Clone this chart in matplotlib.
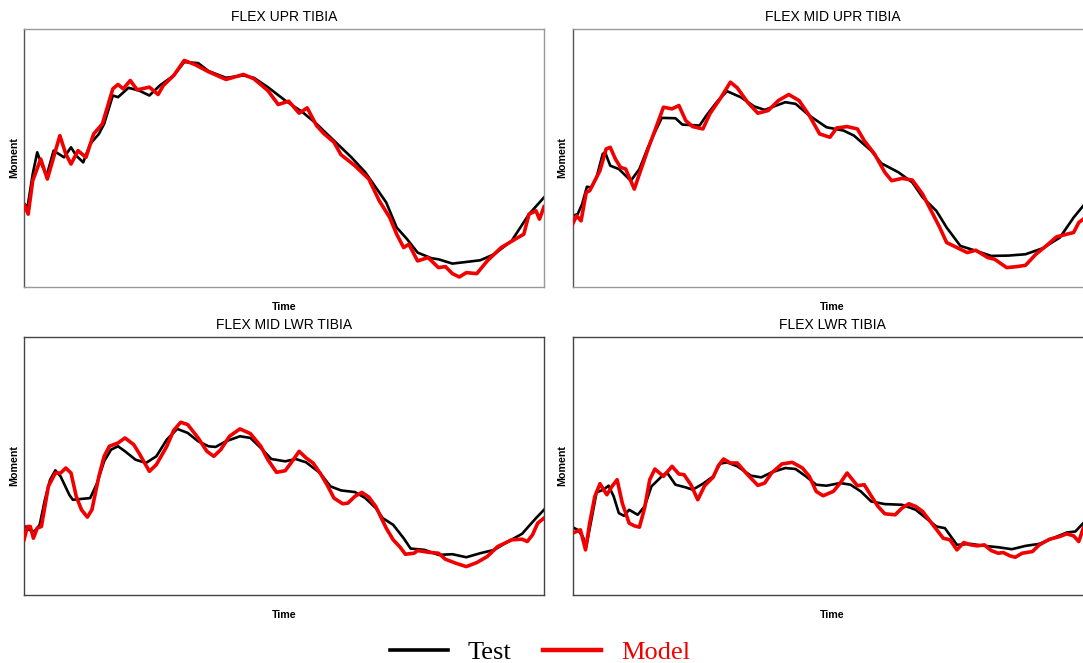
import matplotlib.pyplot as plt
from matplotlib.lines import Line2D

plt.rcParams['font.family'] = ['Liberation Sans', 'DejaVu Sans']

# FLEX UPR TIBIA
t1_test = [2, 10, 25, 38, 50, 65, 85, 100, 115, 135, 150, 170, 190, 215, 230, 255, 270, 300, 330, 360,
           390, 430, 460, 500, 530, 580, 630, 660, 700, 750, 800, 840, 890, 940, 980, 1010, 1040, 1070,
           1100, 1130, 1170, 1190, 1230, 1270, 1310, 1350, 1400, 1450, 1493]
m1_test = [248, 238, 338, 403, 368, 333, 408, 398, 388, 418, 393, 373, 428, 458, 488, 573, 568, 596, 588, 573,
           603, 633, 673, 670, 646, 626, 633, 626, 598, 558, 523, 488, 438, 388, 343, 298, 253, 178,
           143, 103, 86, 83, 70, 75, 80, 98, 138, 218, 268]
t1_model = [2, 12, 25, 48, 67, 85, 103, 120, 135, 155, 178, 200, 225, 255, 270, 285, 305, 325, 360, 385,
            400, 430, 460, 490, 530, 580, 630, 660, 700, 730, 760, 790, 813, 840, 860, 890, 910, 950,
            990, 1020, 1050, 1070, 1090, 1105, 1130, 1160, 1190, 1210, 1230, 1250, 1270, 1300, 1330,
            1370, 1410, 1435, 1450, 1470, 1480, 1493]
m1_model = [243, 218, 318, 383, 323, 388, 453, 398, 368, 408, 388, 458, 488, 593, 606, 593, 618, 590, 598, 576,
            603, 633, 678, 666, 644, 621, 636, 623, 588, 546, 556, 520, 536, 483, 460, 433, 396, 363,
            323, 258, 208, 158, 118, 128, 78, 88, 58, 61, 40, 30, 43, 40, 78,
            118, 143, 158, 218, 228, 203, 240]

# FLEX MID UPR TIBIA
t2_test = [0, 15, 28, 42, 55, 70, 88, 95, 110, 135, 170, 195, 220, 240, 260, 300, 320, 370, 390, 420,
           450, 490, 530, 560, 620, 650, 690, 740, 790, 820, 870, 900, 950, 990, 1020, 1060, 1090,
           1130, 1170, 1220, 1270, 1320, 1370, 1420, 1460, 1488]
m2_test = [213, 218, 248, 300, 298, 328, 398, 403, 363, 353, 318, 353, 418, 463, 506, 505, 486, 483, 513, 553,
           586, 568, 540, 530, 553, 548, 513, 478, 468, 453, 408, 370, 343, 313, 268, 228, 178,
           123, 110, 93, 94, 98, 116, 148, 208, 243]
t2_model = [0, 12, 25, 40, 50, 65, 80, 98, 110, 125, 140, 155, 180, 200, 220, 240, 265, 290, 310, 330,
            350, 380, 400, 430, 460, 480, 510, 540, 570, 600, 630, 660, 690, 720, 750, 770, 800, 830,
            850, 880, 910, 930, 960, 990, 1020, 1050, 1070, 1090, 1120, 1150, 1175, 1210, 1230, 1265,
            1295, 1320, 1350, 1380, 1410, 1440, 1460, 1475, 1488]
m2_model = [188, 213, 198, 283, 288, 318, 348, 413, 418, 383, 358, 353, 293, 353, 413, 468, 538, 533, 543, 498,
            480, 473, 518, 563, 613, 596, 553, 520, 528, 558, 576, 558, 513, 458, 448, 476, 480, 473,
            438, 398, 343, 318, 325, 320, 278, 218, 178, 133, 118, 103, 110, 88, 83, 58,
            61, 65, 98, 123, 150, 158, 163, 193, 203]

# FLEX MID LWR TIBIA
t3_test = [0, 15, 30, 45, 60, 75, 90, 105, 130, 140, 170, 190, 210, 230, 250, 270, 290, 320, 350, 380,
           410, 440, 470, 500, 530, 550, 580, 620, 650, 680, 710, 750, 780, 810, 850, 880, 910, 950,
           980, 1010, 1030, 1060, 1090, 1110, 1150, 1190, 1230, 1270, 1310, 1350, 1390, 1430, 1470, 1493]
m3_test = [207, 195, 190, 210, 285, 345, 373, 355, 300, 285, 288, 290, 335, 400, 435, 445, 430, 405, 395, 415,
           465, 497, 485, 460, 445, 443, 460, 475, 470, 440, 407, 400, 407, 397, 365, 325, 313, 308,
           290, 260, 230, 210, 170, 139, 135, 120, 122, 113, 125, 135, 160, 183, 230, 255]
t3_model = [0, 10, 18, 27, 38, 50, 60, 70, 90, 105, 120, 135, 150, 165, 182, 195, 215, 230, 245, 270,
            290, 315, 330, 360, 380, 410, 430, 450, 470, 500, 525, 545, 565, 590, 620, 650, 680, 700,
            725, 750, 770, 790, 810, 830, 850, 870, 890, 915, 930, 950, 970, 990, 1010, 1040, 1060,
            1080, 1095, 1120, 1130, 1160, 1190, 1210, 1240, 1270, 1300, 1330, 1360, 1400, 1430, 1445,
            1460, 1475, 1493]
m3_model = [165, 205, 205, 170, 200, 205, 265, 325, 365, 365, 380, 365, 295, 255, 233, 255, 355, 415, 445, 455,
            470, 450, 425, 370, 390, 445, 493, 517, 510, 470, 430, 415, 435, 475, 497, 483, 445, 405,
            367, 372, 400, 430, 410, 395, 365, 330, 290, 273, 275, 295, 307, 293, 265, 200, 165,
            143, 122, 125, 133, 128, 125, 107, 95, 85, 97, 115, 145, 165, 167, 160,
            180, 215, 230]

# FLEX LWR TIBIA
t4_test = [0, 15, 30, 40, 55, 70, 90, 105, 120, 135, 150, 165, 190, 210, 230, 260, 275, 300, 330, 350,
           380, 410, 430, 450, 480, 520, 550, 580, 620, 650, 680, 710, 740, 780, 810, 840, 870, 910,
           960, 1000, 1030, 1060, 1085, 1120, 1160, 1200, 1240, 1280, 1320, 1360, 1400, 1440, 1465, 1488]
m4_test = [203, 195, 175, 145, 225, 307, 315, 327, 295, 245, 237, 255, 240, 265, 325, 355, 367, 330, 322, 315,
           333, 355, 393, 397, 385, 357, 352, 367, 380, 377, 355, 330, 327, 335, 330, 310, 280, 272,
           270, 255, 230, 205, 200, 150, 153, 147, 143, 137, 147, 153, 170, 187, 190, 215]
t4_model = [0, 12, 23, 38, 50, 65, 80, 100, 115, 130, 145, 165, 180, 195, 210, 225, 240, 265, 290, 310,
            325, 345, 365, 385, 410, 425, 440, 460, 480, 510, 540, 560, 580, 610, 640, 670, 690, 710,
            730, 760, 780, 800, 830, 850, 870, 890, 910, 940, 960, 980, 1000, 1020, 1050, 1080, 1100,
            1120, 1140, 1160, 1180, 1200, 1220, 1240, 1255, 1275, 1290, 1310, 1340, 1360, 1390, 1420,
            1440, 1460, 1475, 1488]
m4_model = [185, 190, 195, 135, 215, 295, 333, 300, 325, 345, 275, 215, 207, 203, 260, 345, 377, 355, 385, 362,
            360, 330, 285, 327, 353, 387, 407, 395, 395, 360, 328, 335, 365, 392, 397, 380, 355, 310,
            297, 310, 335, 365, 327, 330, 297, 265, 243, 240, 260, 273, 265, 250, 210, 170, 165,
            135, 157, 150, 147, 150, 133, 125, 127, 117, 113, 125, 130, 150, 167, 175,
            183, 177, 160, 200]

titles = ['FLEX UPR TIBIA', 'FLEX MID UPR TIBIA', 'FLEX MID LWR TIBIA', 'FLEX LWR TIBIA']
panels = [(t1_test, m1_test, t1_model, m1_model),
          (t2_test, m2_test, t2_model, m2_model),
          (t3_test, m3_test, t3_model, m3_model),
          (t4_test, m4_test, t4_model, m4_model)]

fig = plt.figure(figsize=(10.83, 6.63), dpi=100)
W, H = 1083, 663
# axes boxes in pixels: left, top
boxes = [(24, 29), (572.5, 29), (24, 337), (572.5, 337)]
aw, ah = 520, 258
red = '#f20000'

for i, (box, title, (tt, mt, tm, mm)) in enumerate(zip(boxes, titles, panels)):
    x0, y0 = box
    ax = fig.add_axes([x0 / W, (H - y0 - ah) / H, aw / W, ah / H])
    ax.plot(tt, mt, color='black', lw=1.9, solid_joinstyle='round', zorder=2)
    ax.plot(tm, mm, color=red, lw=2.6, solid_joinstyle='round', zorder=3)
    ax.set_xlim(0, 1493 if i % 2 == 0 else 1515)
    ax.set_ylim(0, 772)
    ax.set_xticks([])
    ax.set_yticks([])
    if i < 2:
        for k, s in ax.spines.items():
            s.set_color('#555555' if k == 'left' else '#999999')
            s.set_linewidth(1.0)
    else:
        for s in ax.spines.values():
            s.set_color('#444444')
            s.set_linewidth(1.0)
    ax.set_title(title, fontsize=10, pad=6)
    ax.set_xlabel('Time', fontsize=7.7, fontweight='bold', labelpad=10.5)
    ax.set_ylabel('Moment', fontsize=7.7, fontweight='bold', labelpad=3.5)

handles = [Line2D([], [], color='black', lw=2.6), Line2D([], [], color=red, lw=3.2)]
leg = fig.legend(handles, ['Test', 'Model'], loc='center', bbox_to_anchor=(540 / W, 11 / H),
                 ncol=2, frameon=False, prop={'family': 'Liberation Serif', 'size': 19},
                 handlelength=2.2, handletextpad=0.75, columnspacing=1.2, borderpad=0)
leg.get_texts()[1].set_color(red)

fig.savefig('out.png', dpi=100)
